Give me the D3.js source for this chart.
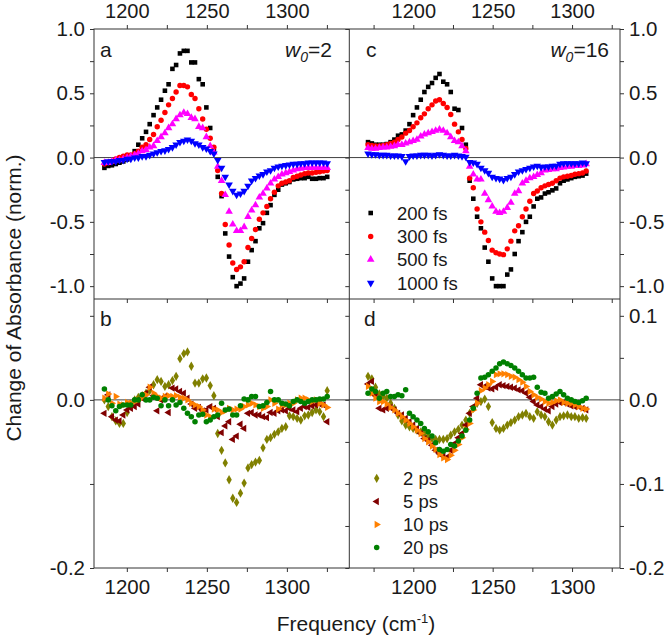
<!DOCTYPE html>
<html><head><meta charset="utf-8">
<script src="https://cdn.jsdelivr.net/npm/d3@7"></script>
<style>body{margin:0;background:#fff}</style>
</head><body><svg id="chart" width="666" height="637" style="background:#fff"></svg>
<script>
// ---------- DATA ----------
const freqA = [1186.0,1188.4,1190.7,1193.1,1195.4,1197.8,1200.2,1202.5,1204.9,1207.2,
1209.6,1212.0,1214.3,1216.7,1219.0,1221.4,1223.8,1226.1,1228.5,1230.8,
1233.2,1235.6,1237.9,1240.3,1242.6,1245.0,1247.4,1249.7,1252.1,1254.4,
1256.8,1259.2,1261.5,1263.9,1266.2,1268.6,1271.0,1273.3,1275.7,1278.0,
1280.4,1282.8,1285.1,1287.5,1289.8,1292.2,1294.6,1296.9,1299.3,1301.6,
1304.0,1306.4,1308.7,1311.1,1313.4,1315.8,1318.2,1320.5,1322.9,1325.2];

const freqC = [1171.5,1173.9,1176.2,1178.6,1181.0,1183.3,1185.7,1188.1,1190.4,1192.8,
1195.2,1197.6,1199.9,1202.3,1204.7,1207.0,1209.4,1211.8,1214.1,1216.5,
1218.9,1221.3,1223.6,1226.0,1228.4,1230.7,1233.1,1235.5,1237.8,1240.2,
1242.6,1245.0,1247.3,1249.7,1252.1,1254.4,1256.8,1259.2,1261.5,1263.9,
1266.3,1268.7,1271.0,1273.4,1275.8,1278.1,1280.5,1282.9,1285.2,1287.6,
1290.0,1292.4,1294.7,1297.1,1299.5,1301.8,1304.2,1306.6,1308.9];

const seriesTop = ["200 fs","300 fs","500 fs","1000 fs"];
const seriesBottom = ["2 ps","5 ps","10 ps","20 ps"];

// panel a (w0=2), fs delays
const a200 = [-0.08,-0.065,-0.06,-0.05,-0.04,-0.03,-0.015,0.01,0.05,0.10,
0.15,0.20,0.26,0.33,0.39,0.45,0.52,0.57,0.69,0.72,
0.81,0.83,0.83,0.74,0.74,0.61,0.57,0.39,0.23,0.05,
-0.15,-0.30,-0.59,-0.77,-0.93,-1.00,-0.98,-0.94,-0.81,-0.72,
-0.65,-0.55,-0.51,-0.43,-0.37,-0.29,-0.25,-0.21,-0.20,-0.19,
-0.17,-0.165,-0.16,-0.16,-0.15,-0.165,-0.165,-0.16,-0.16,-0.15];
const a300 = [-0.05,-0.04,-0.03,-0.01,0.00,0.01,0.02,0.02,0.03,0.05,
0.08,0.10,0.14,0.18,0.24,0.29,0.35,0.41,0.46,0.51,
0.56,0.56,0.55,0.49,0.46,0.38,0.30,0.22,0.15,0.08,
-0.10,-0.28,-0.52,-0.68,-0.82,-0.87,-0.85,-0.81,-0.70,-0.63,
-0.56,-0.48,-0.43,-0.38,-0.32,-0.27,-0.22,-0.20,-0.19,-0.18,
-0.155,-0.145,-0.135,-0.125,-0.12,-0.12,-0.115,-0.11,-0.105,-0.10];
const a500 = [-0.04,-0.04,-0.03,-0.02,-0.02,-0.01,0.00,0.01,0.02,0.03,
0.05,0.06,0.08,0.09,0.13,0.16,0.19,0.23,0.26,0.30,
0.33,0.35,0.34,0.31,0.30,0.24,0.23,0.16,0.09,0.04,
-0.07,-0.18,-0.29,-0.42,-0.52,-0.57,-0.57,-0.54,-0.46,-0.41,
-0.37,-0.31,-0.28,-0.24,-0.20,-0.17,-0.15,-0.13,-0.12,-0.11,
-0.10,-0.09,-0.085,-0.08,-0.08,-0.08,-0.08,-0.08,-0.08,-0.08];
const a1000 = [-0.035,-0.03,-0.03,-0.03,-0.02,-0.02,-0.01,-0.01,0.00,0.00,
0.01,0.01,0.02,0.03,0.04,0.05,0.055,0.065,0.08,0.10,
0.12,0.13,0.14,0.13,0.11,0.10,0.08,0.07,0.05,0.03,
-0.02,-0.08,-0.15,-0.21,-0.26,-0.29,-0.28,-0.26,-0.22,-0.18,
-0.16,-0.14,-0.13,-0.11,-0.10,-0.08,-0.07,-0.065,-0.06,-0.055,
-0.05,-0.05,-0.045,-0.045,-0.04,-0.04,-0.04,-0.04,-0.04,-0.045];

// panel c (w0=16), fs delays
const c200 = [0.12,0.11,0.10,0.10,0.10,0.105,0.12,0.14,0.17,0.18,
0.21,0.26,0.33,0.39,0.45,0.51,0.55,0.58,0.62,0.65,
0.59,0.57,0.51,0.38,0.37,0.23,0.10,-0.18,-0.32,-0.46,
-0.55,-0.70,-0.81,-0.94,-1.00,-1.00,-1.00,-0.91,-0.87,-0.75,
-0.65,-0.58,-0.50,-0.46,-0.38,-0.32,-0.31,-0.28,-0.27,-0.255,
-0.24,-0.20,-0.18,-0.17,-0.16,-0.15,-0.145,-0.14,-0.125];
const c300 = [0.10,0.095,0.09,0.09,0.095,0.10,0.11,0.12,0.14,0.16,
0.19,0.21,0.24,0.27,0.31,0.34,0.38,0.41,0.44,0.45,
0.42,0.39,0.335,0.26,0.20,0.14,0.07,-0.16,-0.235,-0.40,
-0.50,-0.58,-0.645,-0.72,-0.74,-0.75,-0.755,-0.71,-0.65,-0.57,
-0.53,-0.46,-0.40,-0.34,-0.28,-0.26,-0.235,-0.22,-0.21,-0.20,
-0.18,-0.16,-0.15,-0.145,-0.14,-0.13,-0.125,-0.12,-0.105];
const c500 = [0.075,0.07,0.07,0.075,0.08,0.08,0.085,0.09,0.10,0.10,
0.11,0.12,0.13,0.14,0.165,0.18,0.19,0.20,0.21,0.22,
0.21,0.19,0.16,0.13,0.12,0.09,0.05,-0.07,-0.13,-0.17,
-0.17,-0.28,-0.33,-0.38,-0.42,-0.43,-0.42,-0.39,-0.35,-0.28,
-0.26,-0.20,-0.18,-0.16,-0.15,-0.135,-0.12,-0.10,-0.095,-0.09,
-0.09,-0.08,-0.075,-0.07,-0.07,-0.065,-0.065,-0.06,-0.05];
const c1000 = [0.03,0.025,0.025,0.02,0.02,0.02,0.015,0.015,0.015,0.01,
-0.03,0.01,0.015,0.015,0.02,0.02,0.02,0.015,0.02,0.025,
0.02,0.015,0.015,0.02,0.015,0.01,0.005,-0.035,-0.04,-0.05,
-0.08,-0.10,-0.12,-0.15,-0.16,-0.165,-0.175,-0.16,-0.15,-0.13,
-0.11,-0.10,-0.09,-0.08,-0.07,-0.065,-0.075,-0.07,-0.07,-0.065,
-0.065,-0.05,-0.045,-0.045,-0.045,-0.045,-0.045,-0.04,-0.045];

// panel b (w0=2), ps delays
const b2 = [0.000,-0.008,-0.020,-0.025,-0.028,-0.028,-0.015,-0.005,0.000,0.003,
0.005,0.008,0.011,0.018,0.024,0.022,0.016,0.018,0.023,0.028,
0.049,0.055,0.057,0.040,0.020,0.020,0.025,0.026,0.017,0.005,
-0.040,-0.060,-0.075,-0.095,-0.117,-0.122,-0.111,-0.099,-0.081,-0.077,
-0.074,-0.072,-0.057,-0.047,-0.045,-0.041,-0.038,-0.034,-0.032,-0.019,
-0.020,-0.022,-0.024,-0.019,-0.018,-0.015,-0.012,-0.014,-0.020,0.011];
const b5 = [-0.016,0.006,-0.020,-0.024,-0.025,-0.018,-0.012,-0.010,-0.008,-0.005,
0.002,0.008,0.015,0.005,-0.013,0.000,0.004,-0.015,0.014,0.013,
0.010,0.008,0.002,-0.005,-0.010,-0.009,-0.013,-0.012,-0.008,-0.010,
-0.020,-0.039,-0.031,-0.026,-0.047,-0.043,-0.029,-0.034,-0.016,-0.015,
-0.018,-0.018,-0.020,-0.021,-0.015,-0.016,-0.013,-0.012,-0.013,-0.010,
-0.012,-0.014,-0.010,-0.008,-0.009,-0.007,-0.006,-0.005,-0.006,-0.026];
const b10 = [0.002,0.007,-0.004,0.004,-0.005,-0.006,-0.003,-0.004,-0.002,0.000,
0.003,0.006,0.015,0.008,0.004,0.002,0.004,0.005,0.004,0.005,
0.003,0.002,0.000,-0.004,-0.006,-0.008,-0.012,-0.018,-0.020,-0.011,
-0.012,-0.015,-0.013,-0.010,-0.012,-0.011,-0.011,-0.008,-0.006,-0.004,
-0.006,-0.008,-0.010,-0.008,0.000,-0.004,-0.011,-0.006,-0.006,-0.004,
-0.004,0.000,0.002,0.002,0.000,-0.002,0.000,-0.004,-0.006,-0.009];
const b20 = [0.013,0.000,-0.007,-0.013,-0.008,-0.006,-0.006,-0.006,0.000,0.000,
0.006,0.000,0.000,0.003,0.002,-0.007,0.000,-0.007,0.000,-0.006,
-0.003,-0.010,-0.016,-0.020,-0.026,-0.018,-0.017,-0.026,-0.024,-0.020,
-0.018,-0.004,-0.012,-0.011,-0.018,-0.018,-0.007,0.001,0.000,0.004,
0.004,-0.008,-0.007,-0.003,0.010,0.000,0.000,-0.004,-0.005,-0.007,
-0.002,0.000,-0.002,-0.004,-0.002,0.000,0.000,0.001,0.001,0.004];

// panel d (w0=16), ps delays
const d2 = [0.028,0.025,0.015,0.007,0.004,0.002,-0.004,-0.010,-0.018,-0.025,
-0.030,-0.032,-0.034,-0.036,-0.038,-0.040,-0.043,-0.046,-0.047,-0.047,
-0.047,-0.046,-0.042,-0.038,-0.035,-0.030,-0.024,-0.016,-0.010,-0.004,
-0.002,0.001,-0.008,-0.027,-0.034,-0.036,-0.034,-0.030,-0.027,-0.024,
-0.020,-0.018,-0.016,-0.020,-0.022,-0.014,-0.018,-0.020,-0.026,-0.030,
-0.024,-0.020,-0.019,-0.018,-0.020,-0.020,-0.022,-0.021,-0.022];
const d5 = [0.019,0.022,0.005,-0.010,-0.012,-0.010,-0.009,-0.012,-0.016,-0.018,
-0.022,-0.026,-0.030,-0.034,-0.040,-0.046,-0.048,-0.054,-0.060,-0.064,
-0.067,-0.068,-0.060,-0.052,-0.045,-0.040,-0.030,-0.016,-0.008,0.002,
0.018,0.016,0.014,0.013,0.015,0.018,0.017,0.016,0.015,0.014,
0.012,0.011,0.008,0.003,-0.002,-0.006,-0.008,-0.011,-0.013,-0.008,
-0.005,-0.003,-0.003,-0.005,-0.007,-0.008,-0.008,-0.010,-0.012];
const d10 = [0.016,0.008,0.002,-0.002,-0.002,-0.005,-0.009,-0.012,-0.016,-0.020,
-0.024,-0.028,-0.032,-0.036,-0.040,-0.046,-0.050,-0.055,-0.059,-0.065,
-0.069,-0.071,-0.066,-0.060,-0.053,-0.045,-0.035,-0.028,-0.012,-0.004,
0.011,0.014,0.018,0.022,0.030,0.031,0.031,0.030,0.028,0.027,
0.024,0.021,0.016,0.010,0.006,0.003,0.001,-0.002,-0.004,-0.003,
-0.001,0.000,-0.003,-0.004,-0.004,-0.006,-0.008,-0.010,-0.011];
const d20 = [0.008,0.013,0.010,0.002,0.008,0.010,0.004,0.004,0.006,0.005,
0.012,-0.016,-0.020,-0.024,-0.028,-0.034,-0.038,-0.043,-0.051,-0.059,
-0.061,-0.059,-0.053,-0.055,-0.049,-0.043,-0.036,-0.024,-0.010,0.008,
0.026,0.027,0.030,0.034,0.038,0.043,0.045,0.043,0.041,0.038,
0.034,0.030,0.026,0.026,0.027,0.015,0.009,0.008,0.002,0.004,
0.007,0.010,0.006,0.002,0.000,-0.002,-0.003,-0.001,0.002];

const xTicksL = [1200,1225,1250,1275,1300,1325];
const xTicksR = [1175,1200,1225,1250,1275,1300,1325];
const yTicksTop = [1.0,0.75,0.5,0.25,0,-0.25,-0.5,-0.75,-1.0];
const yTicksBotLeft = [0.1,0,-0.1,-0.2];
const yTicksBotRight = [0.1,0.05,0,-0.05,-0.1,-0.15,-0.2];

// ---------- DRAW ----------
const svg = d3.select("#chart");
const FONT = '"Liberation Sans", Arial, Helvetica, sans-serif';
const INK = "#1a1a1a";

const xL = d3.scaleLinear().domain([1179.5, 1339]).range([94, 349.3]);
const xR = d3.scaleLinear().domain([1159.7, 1330.2]).range([349.3, 620]);
const yT = d3.scaleLinear().domain([-1.1, 1.0]).range([299, 29]);
const yB = d3.scaleLinear().domain([-0.2, 0.12]).range([568, 299]);

const style = {
  "200 fs": {color:"#000000", type:d3.symbolSquare, rot:0, size:21},
  "300 fs": {color:"#ff0000", type:d3.symbolCircle, rot:0, size:23},
  "500 fs": {color:"#ff00ff", type:d3.symbolTriangle, rot:0, size:25},
  "1000 fs":{color:"#0000ff", type:d3.symbolTriangle, rot:180, size:25},
  "2 ps":   {color:"#808000", type:d3.symbolDiamond, rot:0, size:25},
  "5 ps":   {color:"#800000", type:d3.symbolTriangle, rot:-90, size:23},
  "10 ps":  {color:"#ff8000", type:d3.symbolTriangle, rot:90, size:23},
  "20 ps":  {color:"#008000", type:d3.symbolCircle, rot:0, size:24}
};

const panels = [
  {x:xL, y:yT, freq:freqA, names:seriesTop, vals:[a200,a300,a500,a1000]},
  {x:xR, y:yT, freq:freqC, names:seriesTop, vals:[c200,c300,c500,c1000]},
  {x:xL, y:yB, freq:freqA, names:seriesBottom, vals:[b2,b5,b10,b20]},
  {x:xR, y:yB, freq:freqC, names:seriesBottom, vals:[d2,d5,d10,d20]}
];

// zero lines
[yT, yB].forEach(ys => {
  svg.append("line").attr("x1",94).attr("x2",620)
    .attr("y1",ys(0)).attr("y2",ys(0))
    .attr("stroke","#404040").attr("stroke-width",1);
});

// markers
panels.forEach(p => {
  p.names.forEach((name, si) => {
    const st = style[name];
    const sym = d3.symbol().type(st.type).size(st.size);
    svg.append("g").selectAll("path")
      .data(p.freq.map((f,i) => [f, p.vals[si][i]]))
      .join("path")
      .attr("d", sym)
      .attr("fill", st.color)
      .attr("transform", d => `translate(${p.x(d[0])},${p.y(d[1])}) rotate(${st.rot})`);
  });
});

// frame
const frame = svg.append("g").attr("stroke","#333").attr("stroke-width",1).attr("fill","none");
frame.append("rect").attr("x",94).attr("y",29).attr("width",620-94).attr("height",568-29);
frame.append("line").attr("x1",349.3).attr("x2",349.3).attr("y1",29).attr("y2",568);
frame.append("line").attr("x1",94).attr("x2",620).attr("y1",299).attr("y2",299);

function styleAxis(g, fs) {
  g.select(".domain").remove();
  g.attr("font-family", FONT).attr("font-size", fs);
  g.selectAll("line").attr("stroke","#333");
  g.selectAll("text").attr("fill", INK);
}

const xLab = d => (d % 50 === 0 ? String(d) : "");
[[xL, xTicksL],[xR, xTicksR]].forEach(([sc, tv]) => {
  svg.append("g").attr("transform","translate(0,29)")
    .call(d3.axisTop(sc).tickValues(tv).tickSize(4).tickPadding(7).tickFormat(xLab))
    .call(g => styleAxis(g, 20));
  svg.append("g").attr("transform","translate(0,299)")
    .call(d3.axisBottom(sc).tickValues(tv).tickSize(4).tickFormat(""))
    .call(g => styleAxis(g, 20));
  svg.append("g").attr("transform","translate(0,568)")
    .call(d3.axisBottom(sc).tickValues(tv).tickSize(4).tickPadding(7).tickFormat(xLab))
    .call(g => styleAxis(g, 20.5));
});

const isMult = (d, step) => Math.abs(d/step - Math.round(d/step)) < 1e-6;
const f1 = d => (Math.abs(d) < 1e-9 ? "0.0" : d.toFixed(1));

svg.append("g").attr("transform","translate(94,0)")
  .call(d3.axisLeft(yT).tickValues(yTicksTop).tickSize(4).tickPadding(5)
    .tickFormat(d => isMult(d,0.5) ? f1(d) : ""))
  .call(g => styleAxis(g, 20.5));
svg.append("g").attr("transform","translate(620,0)")
  .call(d3.axisRight(yT).tickValues(yTicksTop).tickSize(4).tickPadding(5)
    .tickFormat(d => isMult(d,0.5) ? f1(d) : ""))
  .call(g => styleAxis(g, 20.5));
svg.append("g").attr("transform","translate(349.3,0)")
  .call(d3.axisLeft(yT).tickValues(yTicksTop).tickSize(4).tickFormat(""))
  .call(g => styleAxis(g, 20));

svg.append("g").attr("transform","translate(94,0)")
  .call(d3.axisLeft(yB).tickValues(yTicksBotLeft).tickSize(4).tickPadding(5)
    .tickFormat(d => (isMult(d,0.2) ? f1(d) : "")))
  .call(g => styleAxis(g, 20.5));
svg.append("g").attr("transform","translate(620,0)")
  .call(d3.axisRight(yB).tickValues(yTicksBotRight).tickSize(4).tickPadding(5)
    .tickFormat(d => isMult(d,0.1) ? f1(d) : ""))
  .call(g => styleAxis(g, 20.5));
svg.append("g").attr("transform","translate(349.3,0)")
  .call(d3.axisLeft(yB).tickValues(yTicksBotRight).tickSize(4).tickFormat(""))
  .call(g => styleAxis(g, 20));

// panel letters
const txt = svg.append("g").attr("font-family", FONT).attr("fill", INK);
[["a",100,57],["c",366,57],["b",100,326],["d",364,326]].forEach(([t,x,y]) => {
  txt.append("text").attr("x",x).attr("y",y).attr("font-size",21).text(t);
});

// w0 labels
[["2",332],["16",609]].forEach(([v,x]) => {
  const t = txt.append("text").attr("x",x).attr("y",57).attr("font-size",21).attr("text-anchor","end");
  t.append("tspan").attr("font-style","italic").text("w");
  t.append("tspan").attr("font-style","italic").attr("font-size",14).attr("dy",5).text("0");
  t.append("tspan").attr("dy",-5).text("=" + v);
});

// legends
function legend(names, sx, tx, rows) {
  names.forEach((name, i) => {
    const st = style[name];
    svg.append("path")
      .attr("d", d3.symbol().type(st.type).size(st.size)())
      .attr("fill", st.color)
      .attr("transform", `translate(${sx},${rows[i]}) rotate(${st.rot})`);
    txt.append("text").attr("x", tx).attr("y", rows[i]).attr("dy","0.36em")
      .attr("font-size",18.5).text(name);
  });
}
legend(seriesTop, 370.7, 397, [213, 236.5, 259.5, 283]);
legend(seriesBottom, 376.7, 403, [478.3, 501.5, 524.5, 547.5]);

// axis titles
txt.append("text").attr("transform","translate(21,298) rotate(-90)")
  .attr("text-anchor","middle").attr("font-size",21).text("Change of Absorbance (norm.)");
const xt = txt.append("text").attr("x",356).attr("y",631).attr("text-anchor","middle").attr("font-size",21);
xt.append("tspan").text("Frequency (cm");
xt.append("tspan").attr("font-size",13).attr("dy",-8).text("-1");
xt.append("tspan").attr("dy",8).text(")");
</script></body></html>
